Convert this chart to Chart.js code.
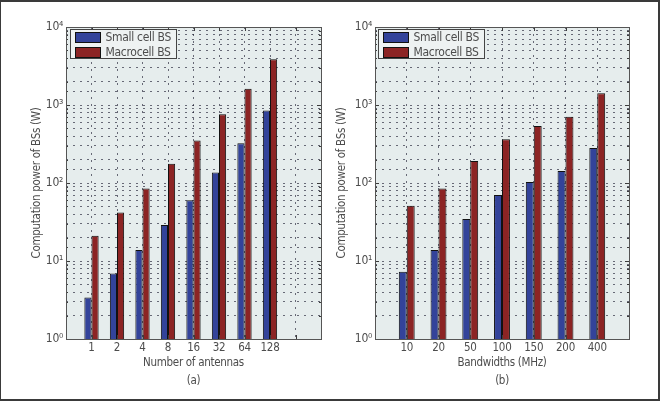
<!DOCTYPE html>
<html><head><meta charset="utf-8">
<script src="https://cdn.jsdelivr.net/npm/chart.js@4.4.1/dist/chart.umd.min.js"></script>
<style>
html,body{margin:0;padding:0;background:#fff;}
#frame{position:absolute;left:0;top:0;width:660px;height:401px;box-sizing:border-box;border-style:solid;border-color:#3a3a3a;border-width:2px 2px 2px 1px;}
canvas{position:absolute;top:0;}
</style></head><body>
<div id="frame"></div>
<canvas id="cA" width="330" height="401" style="left:0px"></canvas>
<canvas id="cB" width="330" height="401" style="left:330px"></canvas>
<script>
// ---- data ----
const antennaLabels = ['1','2','4','8','16','32','64','128'];
const smallCellA = [3.4, 6.9, 13.8, 29, 60, 136, 323, 850];
const macroCellA = [21, 42, 85, 176, 350, 760, 1620, 3850];
const bandwidthLabels = ['10','20','50','100','150','200','400'];
const smallCellB = [7.3, 13.8, 34.5, 70, 103, 142, 280];
const macroCellB = [51, 85, 192, 363, 537, 707, 1410];
const seriesNames = ['Small cell BS','Macrocell BS'];
const yTickValues = [1, 10, 100, 1000, 10000];
const yTickLabels = ['10\u2070','10\u00B9','10\u00B2','10\u00B3','10\u2074'];
const yTitle = 'Computation power of BSs (W)';
const xTitleA = ['Number of antennas','(a)'];
const xTitleB = ['Bandwidths (MHz)','(b)'];

// ---- style ----
const FONT = "'Liberation Sans Narrow','DejaVu Sans Condensed','Liberation Sans',sans-serif";
const TEXT = '#4d4d4d';
const BLUE = '#33439a';
const RED = '#8c2424';
const GRID = 'rgba(25,25,45,0.62)';
Chart.defaults.font.family = FONT;
Chart.defaults.color = TEXT;

function majorIndex(v){
  for (let i=0;i<yTickValues.length;i++){
    if (Math.abs(Math.log10(v)-Math.log10(yTickValues[i]))<1e-6) return i;
  }
  return -1;
}

const frameAndLegend = {
  id: 'frameAndLegend',
  beforeDraw(chart){
    const {ctx, chartArea:a} = chart;
    ctx.letterSpacing = '-0.3px';
    ctx.save();
    ctx.fillStyle = '#e6eded';
    ctx.fillRect(a.left, a.top, a.right-a.left, a.bottom-a.top);
    ctx.restore();
  },
  afterDraw(chart, args, opts){
    const {ctx, chartArea:a} = chart;
    const xs = chart.scales.x, ys = chart.scales.y;
    ctx.save();
    ctx.strokeStyle = '#3c3c3c';
    ctx.lineWidth = 1;
    ctx.beginPath();
    ys.ticks.forEach(t => {
      const py = Math.round(ys.getPixelForValue(t.value))+0.5;
      const len = majorIndex(t.value)>=0 ? 4 : 2;
      ctx.moveTo(a.left, py); ctx.lineTo(a.left+len, py);
      ctx.moveTo(a.right, py); ctx.lineTo(a.right-len, py);
    });
    xs.ticks.forEach((t,i) => {
      const px = Math.round(xs.getPixelForTick(i))+0.5;
      ctx.moveTo(px, a.bottom); ctx.lineTo(px, a.bottom-4);
      ctx.moveTo(px, a.top); ctx.lineTo(px, a.top+4);
    });
    ctx.stroke();
    ctx.strokeStyle = '#555';
    ctx.strokeRect(Math.round(a.left)+0.5, Math.round(a.top)+0.5, Math.round(a.right-a.left), Math.round(a.bottom-a.top));
    // legend box
    const lx = Math.round(a.left + opts.dx)+0.5, ly = Math.round(a.top+2)+0.5;
    const lw = 106, lh = 29;
    ctx.fillStyle = '#eef2f2';
    ctx.fillRect(lx, ly, lw, lh);
    ctx.strokeStyle = '#444';
    ctx.strokeRect(lx, ly, lw, lh);
    chart.data.datasets.forEach((ds, i) => {
      const sy = ly + 3 + i*15;
      ctx.fillStyle = ds.backgroundColor;
      ctx.fillRect(lx+5, sy, 25, 10);
      ctx.strokeStyle = '#111';
      ctx.strokeRect(lx+5, sy, 25, 10);
      ctx.fillStyle = TEXT;
      ctx.font = '12px ' + FONT;
      ctx.textBaseline = 'middle';
      ctx.textAlign = 'left';
      ctx.fillText(ds.label, lx+35, sy+5);
    });
    ctx.restore();
  }
};

function makeChart(id, cats, small, macro, cfg){
  const labels = [''].concat(cats, new Array(cfg.extra).fill(''));
  const pad = v => [null].concat(v, new Array(cfg.extra).fill(null));
  return new Chart(document.getElementById(id), {
    type: 'bar',
    data: {
      labels: labels,
      datasets: [
        {label: seriesNames[0], data: pad(small), backgroundColor: BLUE, borderColor: '#111', borderWidth: 1},
        {label: seriesNames[1], data: pad(macro), backgroundColor: RED, borderColor: '#111', borderWidth: 1}
      ]
    },
    options: {
      responsive: false,
      animation: false,
      devicePixelRatio: 1,
      datasets: {bar: {categoryPercentage: cfg.cat, barPercentage: 1}},
      layout: {padding: {left: 0, right: cfg.padRight, top: 27, bottom: 0}},
      plugins: {
        legend: {display: false},
        tooltip: {enabled: false},
        frameAndLegend: {dx: cfg.legendDx}
      },
      scales: {
        x: {
          type: 'category',
          offset: false,
          grid: {offset: false, drawTicks: false, color: GRID, lineWidth: 1},
          border: {display: false, dash: [2,5]},
          ticks: {padding: 2, autoSkip: false, maxRotation: 0, font: {size: 11.5}, color: TEXT},
          title: {display: true, text: cfg.xTitle, font: {size: 11.5, lineHeight: 1.55}, color: TEXT, padding: {top: 0, bottom: 11}},
          afterFit(s){ s.height = 62; }
        },
        y: {
          type: 'logarithmic',
          min: 1, max: 10000,
          grid: {drawTicks: false, color: GRID, lineWidth: 1},
          border: {display: false, dash: [2,5]},
          ticks: {
            autoSkip: false, padding: 3, font: {size: 12}, color: TEXT,
            callback(v){ const i = majorIndex(v); return i>=0 ? yTickLabels[i] : ''; }
          },
          title: {display: true, text: yTitle, font: {size: 11.5}, color: TEXT, padding: {top: cfg.yTitlePad, bottom: 0}},
          afterFit(s){ s.width = cfg.yWidth; }
        }
      }
    },
    plugins: [frameAndLegend]
  });
}

makeChart('cA', antennaLabels, smallCellA, macroCellA,
  {extra: 2, cat: 0.56, padRight: 9, yWidth: 66, yTitlePad: 30, legendDx: 4, xTitle: xTitleA});
makeChart('cB', bandwidthLabels, smallCellB, macroCellB,
  {extra: 1, cat: 0.5, padRight: 31, yWidth: 45, yTitlePad: 5, legendDx: 3, xTitle: xTitleB});
</script>
</body></html>
